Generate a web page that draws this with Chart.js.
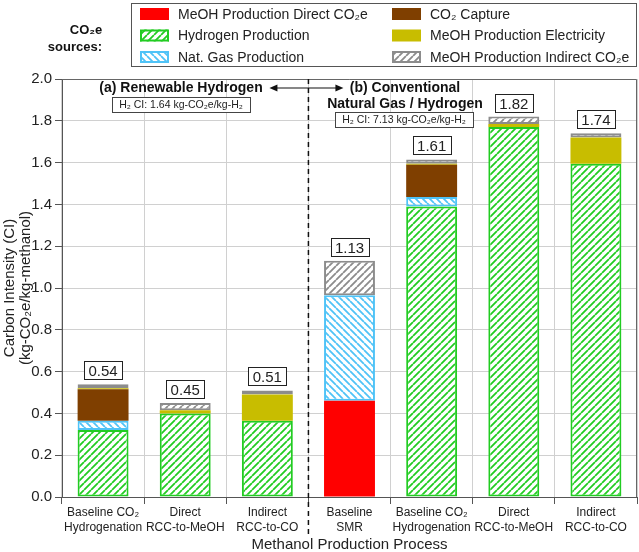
<!DOCTYPE html>
<html lang="en">
<head>
<meta charset="UTF-8">
<title>Methanol Carbon Intensity</title>
<script src="https://cdn.jsdelivr.net/npm/chart.js"></script>
<style>
  body { margin: 0; background: #fff; }
  canvas { display: block; }
</style>
</head>
<body>
<canvas id="ciChart" width="639" height="552"></canvas>
<script>
// categories (two-line tick labels)
const categories = [
    ['Baseline CO₂', 'Hydrogenation'],
    ['Direct', 'RCC-to-MeOH'],
    ['Indirect', 'RCC-to-CO'],
    ['Baseline', 'SMR'],
    ['Baseline CO₂', 'Hydrogenation'],
    ['Direct', 'RCC-to-MeOH'],
    ['Indirect', 'RCC-to-CO']
];

// series, kg-CO2e/kg-methanol (stacked bottom -> top)
const directCO2e   = [null, null, null, 0.46, null, null, null];
const hydrogenProd = [0.32, 0.40, 0.365, null, 1.39, 1.77, 1.595];
const natGasProd   = [0.045, null, null, 0.505, 0.045, null, null];
const co2Capture   = [0.15, null, null, null, 0.155, null, null];
const electricity  = [0.005, 0.015, 0.125, null, 0.005, 0.015, 0.125];
const indirectCO2e = [0.02, 0.035, 0.02, 0.165, 0.02, 0.035, 0.02];

const totalLabels = ['0.54', '0.45', '0.51', '1.13', '1.61', '1.82', '1.74'];

const yMin = 0, yMax = 2.0, yStep = 0.2;

const FONT = '"Liberation Sans", Arial, sans-serif';
const canvas = document.getElementById('ciChart');
const ctx = canvas.getContext('2d');

function hatch(color, dir) {
    const s = 7;
    const c = document.createElement('canvas');
    c.width = c.height = s;
    const g = c.getContext('2d');
    g.fillStyle = '#fff';
    g.fillRect(0, 0, s, s);
    g.strokeStyle = color;
    g.lineWidth = 1.8;
    g.beginPath();
    if (dir > 0) {
        for (let k = -1; k <= 1; k++) { g.moveTo(k * s, s); g.lineTo(k * s + s, 0); }
    } else {
        for (let k = -1; k <= 1; k++) { g.moveTo(k * s, 0); g.lineTo(k * s + s, s); }
    }
    g.stroke();
    return ctx.createPattern(c, 'repeat');
}

const GREEN = '#22cc22', BLUE = '#4fc3f7', GREY = '#8c8c8c';

function ds(label, data, fill, border, bw) {
    return {
        label: label,
        data: data,
        backgroundColor: fill,
        borderColor: border,
        borderWidth: bw,
        borderSkipped: false,
        barPercentage: 0.62,
        categoryPercentage: 1.0
    };
}

const datasets = [
    ds('MeOH Production Direct CO₂e', directCO2e, '#ff0000', '#ff0000', 0),
    ds('Hydrogen Production', hydrogenProd, hatch(GREEN, 1), GREEN, 2),
    ds('Nat. Gas Production', natGasProd, hatch(BLUE, -1), BLUE, 2),
    ds('CO₂ Capture', co2Capture, '#7f3f00', '#7f3f00', 0),
    ds('MeOH Production Electricity', electricity, '#c8bd00', '#c8bd00', 0),
    ds('MeOH Production Indirect CO₂e', indirectCO2e, hatch(GREY, 1), GREY, 2)
];

// legend, annotations, total boxes, dashed divider
const extras = {
    id: 'extras',
    afterDraw(chart) {
        const c = chart.ctx;
        const area = chart.chartArea;
        const xs = chart.scales.x, ys = chart.scales.y;
        c.save();

        // plot frame top/right
        c.strokeStyle = '#666';
        c.lineWidth = 1;
        c.beginPath();
        c.moveTo(area.left, area.top + 0.5);
        c.lineTo(area.right - 0.5, area.top + 0.5);
        c.lineTo(area.right - 0.5, area.bottom);
        c.stroke();

        // dashed divider between renewable and conventional
        const divX = (xs.getPixelForValue(2) + xs.getPixelForValue(3)) / 2;
        c.strokeStyle = '#111';
        c.lineWidth = 1.5;
        c.setLineDash([5, 4]);
        c.beginPath();
        c.moveTo(divX, area.top);
        c.lineTo(divX, 534);
        c.stroke();
        c.setLineDash([]);

        // double arrow
        const ay = 88, ax0 = divX - 39, ax1 = divX + 35;
        c.lineWidth = 1.2;
        c.beginPath();
        c.moveTo(ax0 + 4, ay); c.lineTo(ax1 - 4, ay);
        c.stroke();
        c.fillStyle = '#111';
        c.beginPath();
        c.moveTo(ax0, ay); c.lineTo(ax0 + 8, ay - 3.5); c.lineTo(ax0 + 8, ay + 3.5); c.closePath();
        c.moveTo(ax1, ay); c.lineTo(ax1 - 8, ay - 3.5); c.lineTo(ax1 - 8, ay + 3.5); c.closePath();
        c.fill();

        // section headings
        c.fillStyle = '#111';
        c.textAlign = 'center';
        c.textBaseline = 'middle';
        c.font = 'bold 14px ' + FONT;
        c.fillText('(a) Renewable Hydrogen', 181, 88);
        c.fillText('(b) Conventional', 405, 88);
        c.fillText('Natural Gas / Hydrogen', 405, 104);

        function ciBox(text, cx, top) {
            c.font = '10.5px ' + FONT;
            const w = 138, h = 15;
            c.fillStyle = '#fff';
            c.fillRect(cx - w / 2, top, w, h);
            c.strokeStyle = '#444';
            c.lineWidth = 1;
            c.strokeRect(Math.round(cx - w / 2) + 0.5, top + 0.5, w, h);
            c.fillStyle = '#222';
            c.fillText(text, cx, top + h / 2 + 0.5);
        }
        ciBox('H₂ CI: 1.64 kg-CO₂e/kg-H₂', 181, 97);
        ciBox('H₂ CI: 7.13 kg-CO₂e/kg-H₂', 404, 112);

        // total value boxes
        c.font = '15px ' + FONT;
        categories.forEach((_, i) => {
            let sum = 0;
            chart.data.datasets.forEach(d => { sum += d.data[i] || 0; });
            const px = xs.getPixelForValue(i);
            const top = ys.getPixelForValue(sum);
            const w = 38, h = 18;
            const bx = Math.round(px - w / 2) + 0.5, by = Math.round(top - 5 - h) + 0.5;
            c.fillStyle = '#fff';
            c.fillRect(bx, by, w, h);
            c.strokeStyle = '#222';
            c.lineWidth = 1;
            c.strokeRect(bx, by, w, h);
            c.fillStyle = '#222';
            c.fillText(totalLabels[i], px, by + h / 2 + 1);
        });

        // axis titles
        c.font = '15px ' + FONT;
        c.fillStyle = '#222';
        c.fillText('Methanol Production Process', (area.left + area.right) / 2, 545);
        c.save();
        c.translate(10, (area.top + area.bottom) / 2);
        c.rotate(-Math.PI / 2);
        c.fillText('Carbon Intensity (CI)', 0, 0);
        c.fillText('(kg-CO₂e/kg-methanol)', 0, 16);
        c.restore();

        // legend
        c.strokeStyle = '#555';
        c.lineWidth = 1;
        c.strokeRect(131.5, 3.5, 505, 63);
        c.font = 'bold 13px ' + FONT;
        c.fillStyle = '#111';
        c.fillText('CO₂e', 86, 30);
        c.textAlign = 'right';
        c.fillText('sources:', 102, 47);
        c.textAlign = 'left';
        c.font = '14px ' + FONT;
        chart.data.datasets.forEach((d, k) => {
            const col = Math.floor(k / 3), row = k % 3;
            const sx = col ? 392 : 140, sy = 14 + row * 21.5;
            c.fillStyle = d.backgroundColor;
            c.fillRect(sx, sy - 6, 29, 12);
            if (d.borderWidth) {
                c.strokeStyle = d.borderColor;
                c.lineWidth = 2;
                c.strokeRect(sx + 1, sy - 5, 27, 10);
            }
            c.fillStyle = '#222';
            c.fillText(d.label, sx + 38, sy + 1);
        });

        c.restore();
    }
};

new Chart(ctx, {
    type: 'bar',
    data: { labels: categories, datasets: datasets },
    options: {
        responsive: false,
        animation: false,
        layout: { padding: { left: 0, top: 79, right: 2, bottom: 0 } },
        plugins: { legend: { display: false }, tooltip: { enabled: false } },
        scales: {
            x: {
                stacked: true,
                afterFit(scale) { scale.height = 55; },
                grid: { color: '#d0d0d0', tickColor: '#555', tickLength: 7, offset: true },
                border: { color: '#555' },
                ticks: {
                    color: '#222',
                    padding: 1,
                    maxRotation: 0,
                    autoSkip: false,
                    font: { family: FONT, size: 12, lineHeight: 1.25 }
                }
            },
            y: {
                stacked: true,
                min: yMin,
                max: yMax,
                afterFit(scale) { scale.width = 62; },
                grid: { color: '#d0d0d0', tickColor: '#555', tickLength: 7 },
                border: { color: '#555' },
                ticks: {
                    stepSize: yStep,
                    color: '#222',
                    padding: 3,
                    font: { family: FONT, size: 15 },
                    callback: v => v.toFixed(1)
                }
            }
        }
    },
    plugins: [extras]
});
</script>
</body>
</html>
